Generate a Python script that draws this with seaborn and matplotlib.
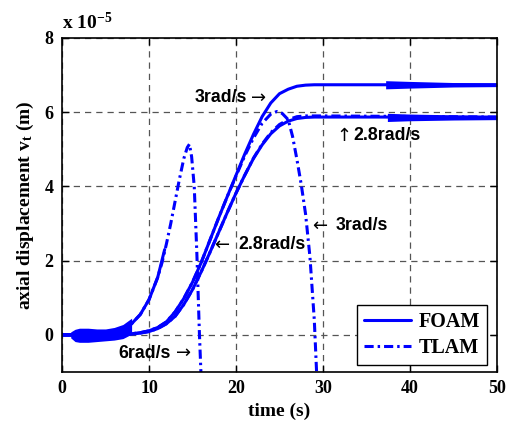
import numpy as np
import pandas as pd
import matplotlib
matplotlib.use("Agg")
import matplotlib.pyplot as plt
from matplotlib.lines import Line2D
import seaborn as sns

# ---------------- data (values in units of 1e-5 m) ----------------
foam3_x = [0, 2, 4, 6, 7, 8, 9, 10, 11, 12, 13, 14, 15, 16, 17, 18, 19, 20, 21, 22,
           23, 24, 25, 26, 27, 28, 29, 30, 37, 44, 50]
foam3_y = [0, 0, 0, 0, 0.01, 0.03, 0.06, 0.11, 0.2, 0.35, 0.62, 0.98, 1.42, 1.95, 2.55,
           3.15, 3.73, 4.3, 4.87, 5.4, 5.88, 6.25, 6.5, 6.62, 6.7, 6.73, 6.74, 6.74,
           6.74, 6.74, 6.74]

foam28_x = foam3_x
foam28_y = [0, 0, 0, 0, 0.01, 0.02, 0.05, 0.09, 0.17, 0.3, 0.5, 0.82, 1.22, 1.7, 2.22,
            2.76, 3.3, 3.82, 4.3, 4.75, 5.12, 5.42, 5.63, 5.76, 5.83, 5.86, 5.87, 5.87,
            5.87, 5.86, 5.86]

foam6_x = [0, 2, 4, 6, 7, 8, 9, 10, 11, 11.8]
foam6_y = [0, 0, 0, 0.05, 0.12, 0.3, 0.55, 0.95, 1.55, 2.3]

tlam6_x = [0, 2, 4, 6, 7, 8, 9, 10, 11, 11.5, 12, 12.5, 13, 13.5, 14, 14.4, 14.65,
           14.9, 15.2, 15.5, 15.8, 16.0]
tlam6_y = [0, 0, 0, 0.05, 0.12, 0.3, 0.55, 0.95, 1.55, 1.95, 2.45, 3.0, 3.6, 4.2, 4.75,
           5.05, 5.14, 4.8, 4.0, 2.2, 0.0, -1.2]

tlam3_x = [0, 2, 4, 6, 7, 8, 9, 10, 11, 12, 13, 14, 15, 16, 17, 18, 19, 20, 21, 22, 23,
           24, 24.7, 25.3, 26, 26.5, 27, 27.5, 28, 28.5, 29, 29.3]
tlam3_y = [0, 0, 0, 0, 0.01, 0.03, 0.06, 0.11, 0.2, 0.35, 0.62, 0.98, 1.42, 1.95, 2.55,
           3.15, 3.73, 4.28, 4.82, 5.3, 5.7, 5.95, 6.02, 5.97, 5.8, 5.35, 4.73, 4.05,
           3.25, 2.1, 0.4, -1.2]

tlam28_x = [0, 2, 4, 6, 7, 8, 9, 10, 11, 12, 13, 14, 15, 16, 17, 18, 19, 20, 21, 22, 23,
            24, 25, 26, 27, 28, 29, 30, 37, 44, 50]
tlam28_y = [0, 0, 0, 0, 0.01, 0.02, 0.05, 0.09, 0.17, 0.3, 0.5, 0.82, 1.22, 1.7, 2.22,
            2.76, 3.3, 3.82, 4.3, 4.76, 5.14, 5.45, 5.67, 5.8, 5.88, 5.9, 5.9, 5.9,
            5.89, 5.88, 5.87]

# noisy bands
noise0_x = [1.0, 1.5, 2, 3, 4, 5, 6, 7, 8]
noise0_lo = [-0.08, -0.18, -0.2, -0.2, -0.18, -0.16, -0.14, -0.1, 0.02]
noise0_hi = [0.08, 0.15, 0.18, 0.18, 0.16, 0.16, 0.2, 0.28, 0.45]

noise3_x = [37.2, 40, 45, 50]
noise3_lo = [6.63, 6.65, 6.68, 6.69]
noise3_hi = [6.85, 6.83, 6.8, 6.79]

noise28_x = [37.4, 40, 45, 50]
noise28_lo = [5.75, 5.77, 5.79, 5.8]
noise28_hi = [5.97, 5.95, 5.93, 5.92]

x_ticks = [0, 10, 20, 30, 40, 50]
y_ticks = [0, 2, 4, 6, 8]
labels = ["3rad/s", "2.8rad/s", "2.8rad/s", "3rad/s", "6rad/s"]
arrows = ["\u2192", "\u2191", "\u2190", "\u2190", "\u2192"]

# ---------------- styling ----------------
sns.set_style("ticks")
plt.rcParams["font.family"] = ["Liberation Serif", "DejaVu Serif"]
plt.rcParams["font.weight"] = "bold"
plt.rcParams["mathtext.fontset"] = "custom"
plt.rcParams["mathtext.rm"] = "Liberation Serif:bold"
plt.rcParams["mathtext.it"] = "Liberation Serif:bold"
plt.rcParams["mathtext.bf"] = "Liberation Serif:bold"
for k in ["text.color", "axes.labelcolor", "xtick.color", "ytick.color", "axes.edgecolor"]:
    plt.rcParams[k] = "black"

BLUE = "#0000ff"
LW = 2.2
DASHDOT = (0, (3.0, 1.3, 0.8, 1.3))

fig = plt.figure(figsize=(5.07, 4.22), dpi=100)
ax = fig.add_axes([62 / 507, 1 - 372 / 422, (497 - 62) / 507, (372 - 38) / 422])

def draw(xs, ys, style):
    df = pd.DataFrame({"t": xs, "v": ys})
    sns.lineplot(data=df, x="t", y="v", ax=ax, color=BLUE, lw=LW, linestyle=style,
                 estimator=None, sort=False, legend=False)

draw(foam3_x, foam3_y, "-")
draw(foam28_x, foam28_y, "-")
draw(foam6_x, foam6_y, "-")
draw(tlam6_x, tlam6_y, DASHDOT)
draw(tlam3_x, tlam3_y, DASHDOT)
draw(tlam28_x, tlam28_y, DASHDOT)

for bx, lo, hi in [(noise0_x, noise0_lo, noise0_hi), (noise3_x, noise3_lo, noise3_hi),
                   (noise28_x, noise28_lo, noise28_hi)]:
    ax.fill_between(bx, lo, hi, color=BLUE, lw=0)

ax.set_xlim(0, 50)
ax.set_ylim(-1, 8)
ax.set_xticks(x_ticks)
ax.set_yticks(y_ticks)
ax.set_xticklabels([str(v) for v in x_ticks], fontsize=13, fontweight="bold")
ax.set_yticklabels([str(v) for v in y_ticks], fontsize=13, fontweight="bold")
ax.tick_params(direction="in", length=5, width=1, top=True, right=True, pad=6,
               colors="black")
for s in ax.spines.values():
    s.set_linewidth(1.2)
    s.set_visible(True)
    s.set_color("black")
ax.grid(True, color="#555555", linestyle=(0, (5, 4)), linewidth=0.9)
ax.set_axisbelow(True)

ax.set_xlabel("time (s)", fontsize=14, fontweight="bold", labelpad=4)
ax.set_ylabel(r"axial displacement v$_{\rm t}$ (m)", fontsize=14, fontweight="bold", labelpad=6)

ax.text(0.0, 1.015, r"x 10$^{-5}$", transform=ax.transAxes, fontsize=14,
        fontweight="bold", ha="left", va="bottom")

# pixel -> data helpers for annotation placement
def px2x(px):
    return (px - 62) / 435 * 50

def py2y(py):
    return 8 - (py - 38) / 334 * 9

afam = ["Liberation Sans", "DejaVu Sans"]
# (text left px, arrow left px, center py)
ann_pos = [(195, 251, 98), (353, 336, 136), (238, 214, 245), (336, 312, 226), (118, 176, 353)]
for (tpx, apx, py), lab, arr in zip(ann_pos, labels, arrows):
    ax.text(px2x(tpx), py2y(py), lab, fontsize=12.8, fontweight="bold", family=afam,
            ha="left", va="center")
    ax.text(px2x(apx), py2y(py), arr, fontsize=13, fontweight="normal",
            family=["DejaVu Sans"], ha="left", va="center")

handles = [Line2D([], [], color=BLUE, lw=LW, linestyle="-"),
           Line2D([], [], color=BLUE, lw=LW, linestyle=DASHDOT)]
leg = ax.legend(handles, ["FOAM", "TLAM"], loc="lower right",
                bbox_to_anchor=((487 - 62) / 435, (372 - 365) / 334),
                prop={"weight": "bold", "size": 14.5, "family": "Liberation Serif"},
                frameon=True, fancybox=False, edgecolor="black", framealpha=1,
                borderpad=0.35, borderaxespad=0, handlelength=2.3, labelspacing=0.3,
                handletextpad=0.4)
leg.get_frame().set_linewidth(1.0)

fig.savefig("out.png", dpi=100)
